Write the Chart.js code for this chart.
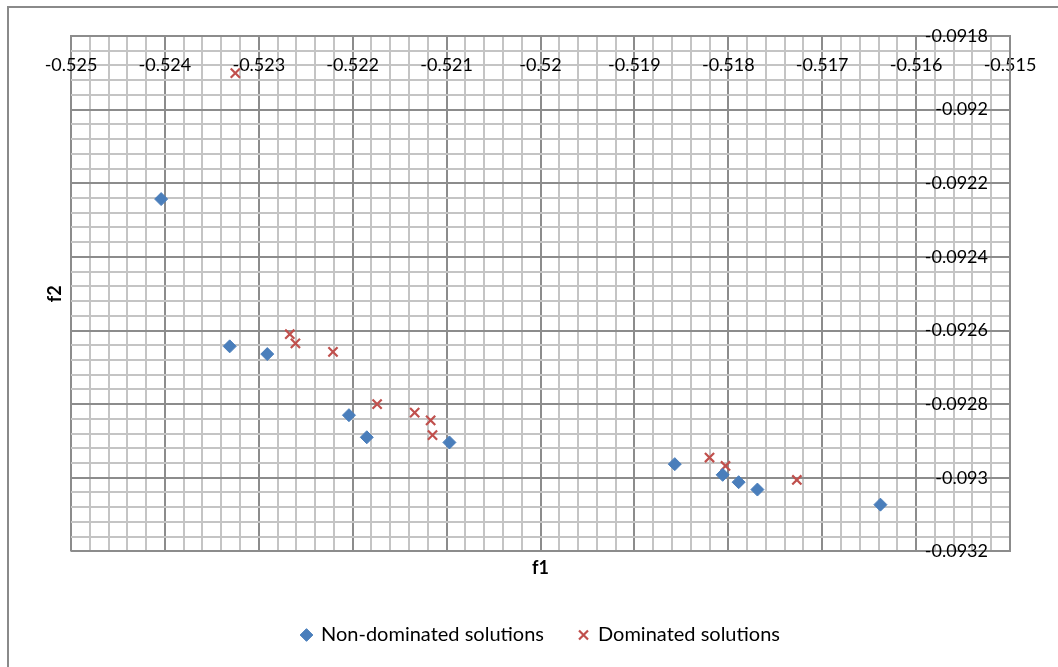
<!DOCTYPE html>
<html>
<head>
<meta charset="utf-8">
<script src="https://cdn.jsdelivr.net/npm/chart.js@4"></script>
<style>
  html, body { margin: 0; padding: 0; background: #fff; }
  #wrap { position: relative; width: 1058px; height: 667px; overflow: hidden; }
  #frame { position: absolute; left: 7px; top: 6px; right: -10px; bottom: -10px;
           border-left: 2px solid #8a8a8a; border-top: 2px solid #8a8a8a; }
  #myChart { position: absolute; left: 0; top: 0; }
</style>
</head>
<body>
<div id="wrap">
  <div id="frame"></div>
  <canvas id="myChart" width="1058" height="667"></canvas>
</div>
<script>
// f1 / f2 values
const nonDomF1 = [-0.52404, -0.52331, -0.52291, -0.52204, -0.52185, -0.52097, -0.51857, -0.51806, -0.51789, -0.51769, -0.51638];
const nonDomF2 = [-0.092243, -0.092643, -0.092664, -0.092830, -0.092890, -0.092904, -0.092963, -0.092992, -0.093012, -0.093032, -0.093073];

const domF1 = [-0.52325, -0.52267, -0.52261, -0.52221, -0.52174, -0.52134, -0.52117, -0.52115, -0.51820, -0.51803, -0.51727];
const domF2 = [-0.091901, -0.092610, -0.092635, -0.092658, -0.092800, -0.092823, -0.092844, -0.092884, -0.092945, -0.092968, -0.093006];

const seriesNames = ["Non-dominated solutions", "Dominated solutions"];

const xMin = -0.525, xMax = -0.515, xMajor = 0.001, xMinor = 0.0002;
const yMin = -0.0932, yMax = -0.0918, yMajor = 0.0002, yMinor = 0.00004;

function toPoints(xs, ys) {
  let pts = [];
  for (let i = 0; i < xs.length; i++) {
    pts.push({ x: xs[i], y: ys[i] });
  }
  return pts;
}

function isMajor(v, step) {
  const k = v / step;
  return Math.abs(k - Math.round(k)) < 1e-6;
}

const fontFamily = "Lato, 'Liberation Sans', sans-serif";
const majorColor = "#8c8c8c";
const minorColor = "#c4c4c4";

let config = {
  type: "scatter",
  data: {
    datasets: [{
      label: seriesNames[0],
      data: toPoints(nonDomF1, nonDomF2),
      pointStyle: "rectRot",
      pointRadius: 6.5,
      backgroundColor: "#4a7ebb",
      borderColor: "#4a7ebb",
      borderWidth: 1,
    }, {
      label: seriesNames[1],
      data: toPoints(domF1, domF2),
      pointStyle: "crossRot",
      pointRadius: 6.5,
      backgroundColor: "#c0504d",
      borderColor: "#c0504d",
      borderWidth: 2.2,
    }],
  },
  options: {
    responsive: false,
    animation: false,
    layout: {
      padding: { left: 24, right: 0, top: 0, bottom: 12 }
    },
    plugins: {
      tooltip: { enabled: false },
      legend: {
        position: "bottom",
        labels: {
          usePointStyle: true,
          boxWidth: 9,
          boxHeight: 9,
          padding: 35,
          color: "#000",
          font: { family: fontFamily, size: 20 }
        }
      }
    },
    scales: {
      x: {
        type: "linear",
        position: "top",
        min: xMin,
        max: xMax,
        afterFit: (s) => { s.height = 36; },
        border: { display: true, color: majorColor, width: 2 },
        grid: {
          drawTicks: false,
          lineWidth: 2,
          color: (c) => (c.tick && isMajor(c.tick.value, xMajor)) ? majorColor : minorColor,
        },
        ticks: {
          stepSize: xMinor,
          autoSkip: false,
          minRotation: 0,
          maxRotation: 0,
          mirror: true,
          padding: 18,
          color: "#000",
          font: { family: fontFamily, size: 18 },
          callback: (v) => isMajor(v, xMajor) ? String(Number(v.toFixed(3))) : ""
        }
      },
      y: {
        type: "linear",
        position: "right",
        min: yMin,
        max: yMax,
        afterFit: (s) => { s.width = 48; },
        border: { display: true, color: majorColor, width: 2 },
        grid: {
          drawTicks: false,
          lineWidth: 2,
          color: (c) => (c.tick && isMajor(c.tick.value, yMajor)) ? majorColor : minorColor,
        },
        ticks: {
          stepSize: yMinor,
          autoSkip: false,
          mirror: true,
          padding: -22,
          color: "#000",
          font: { family: fontFamily, size: 18 },
          callback: (v) => isMajor(v, yMajor) ? String(Number(v.toFixed(4))) : ""
        }
      },
      // empty axes only used to place the titles f1 (below) and f2 (left)
      x2: {
        type: "linear",
        position: "bottom",
        grid: { display: false, drawTicks: false },
        border: { display: false },
        ticks: { display: false },
        title: {
          display: true,
          text: "f1",
          color: "#000",
          padding: { top: 6, bottom: 11 },
          font: { family: fontFamily, size: 18, weight: "bold" }
        }
      },
      y2: {
        type: "linear",
        position: "left",
        afterFit: (s) => { s.width = 47; },
        grid: { display: false, drawTicks: false },
        border: { display: false },
        ticks: { display: false },
        title: {
          display: true,
          text: "f2",
          color: "#000",
          padding: { top: 20, bottom: 4 },
          font: { family: fontFamily, size: 18, weight: "bold" }
        }
      }
    }
  }
};

const ctx = document.getElementById("myChart").getContext("2d");
const myChart = new Chart(ctx, config);
</script>
</body>
</html>
